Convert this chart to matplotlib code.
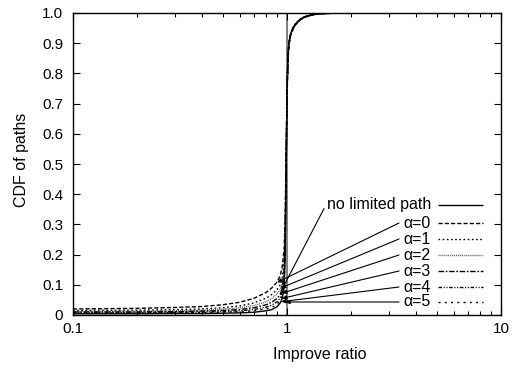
import matplotlib
matplotlib.use("Agg")
import matplotlib.pyplot as plt
from matplotlib.ticker import LogLocator, FixedLocator, NullFormatter, FixedFormatter
from matplotlib.lines import Line2D

plt.rcParams['font.family'] = ['Liberation Sans', 'DejaVu Sans']

# ---------------- data ----------------
ratio = [0.1, 0.2, 0.3, 0.4, 0.5, 0.6, 0.7, 0.8, 0.85, 0.9, 0.93, 0.95, 0.97,
         0.98, 0.99, 1.0, 1.01, 1.02, 1.04, 1.07, 1.1, 1.15, 1.2, 1.3, 1.4,
         1.6, 2.0, 3.0, 10.0]

series_names = ["no limited path", "\u03b1=0", "\u03b1=1", "\u03b1=2",
                "\u03b1=3", "\u03b1=4", "\u03b1=5"]

cdf_no_limit = [0.004, 0.004, 0.005, 0.005, 0.006, 0.007, 0.009, 0.014, 0.018,
                0.028, 0.040, 0.055, 0.09, 0.20, 0.45, 0.74, 0.85, 0.90, 0.93,
                0.95, 0.964, 0.977, 0.985, 0.993, 0.997, 0.999, 1.0, 1.0, 1.0]
cdf_a0 = [0.020, 0.022, 0.025, 0.028, 0.034, 0.042, 0.055, 0.075, 0.090,
          0.110, 0.130, 0.160, 0.22, 0.32, 0.52, 0.72, 0.83, 0.89, 0.925,
          0.948, 0.962, 0.976, 0.985, 0.993, 0.997, 0.999, 1.0, 1.0, 1.0]
cdf_a1 = [0.015, 0.016, 0.018, 0.020, 0.024, 0.030, 0.040, 0.056, 0.068,
          0.085, 0.100, 0.125, 0.18, 0.28, 0.50, 0.73, 0.84, 0.895, 0.93,
          0.952, 0.965, 0.978, 0.986, 0.994, 0.998, 0.999, 1.0, 1.0, 1.0]
cdf_a2 = [0.012, 0.013, 0.014, 0.016, 0.019, 0.024, 0.031, 0.044, 0.055,
          0.070, 0.085, 0.105, 0.16, 0.26, 0.48, 0.73, 0.845, 0.90, 0.93,
          0.952, 0.966, 0.978, 0.986, 0.994, 0.998, 0.999, 1.0, 1.0, 1.0]
cdf_a3 = [0.010, 0.010, 0.011, 0.013, 0.015, 0.018, 0.024, 0.034, 0.043,
          0.055, 0.068, 0.088, 0.14, 0.24, 0.47, 0.74, 0.85, 0.90, 0.932,
          0.953, 0.966, 0.978, 0.987, 0.994, 0.998, 0.999, 1.0, 1.0, 1.0]
cdf_a4 = [0.008, 0.008, 0.009, 0.010, 0.012, 0.014, 0.018, 0.026, 0.033,
          0.044, 0.056, 0.075, 0.12, 0.22, 0.46, 0.74, 0.85, 0.90, 0.932,
          0.953, 0.966, 0.979, 0.987, 0.994, 0.998, 0.999, 1.0, 1.0, 1.0]
cdf_a5 = [0.006, 0.006, 0.007, 0.008, 0.009, 0.011, 0.014, 0.020, 0.025,
          0.036, 0.047, 0.065, 0.11, 0.21, 0.45, 0.74, 0.85, 0.90, 0.932,
          0.953, 0.966, 0.979, 0.987, 0.994, 0.998, 0.999, 1.0, 1.0, 1.0]
all_cdfs = [cdf_no_limit, cdf_a0, cdf_a1, cdf_a2, cdf_a3, cdf_a4, cdf_a5]

# arrow targets (ratio, cdf) for each label
arrow_targets = [(0.94, 0.080), (0.90, 0.108), (0.94, 0.090), (0.95, 0.072),
                 (0.95, 0.055), (0.94, 0.044), (0.985, 0.043)]

y_ticks = [0.0, 0.1, 0.2, 0.3, 0.4, 0.5, 0.6, 0.7, 0.8, 0.9, 1.0]
y_tick_labels = ["0", "0.1", "0.2", "0.3", "0.4", "0.5", "0.6", "0.7",
                 "0.8", "0.9", "1.0"]
x_ticks = [0.1, 1, 10]
x_tick_labels = ["0.1", "1", "10"]

# ---------------- styles ----------------
styles = [
    (0, ()),
    (0, (3.0, 1.5)),
    (0, (1.2, 1.8)),
    (0, (0.7, 0.7)),
    (0, (4.0, 1.2, 1.2, 1.2)),
    (0, (2.5, 1.2, 0.8, 1.2, 0.8, 1.2)),
    (0, (1.5, 3.0)),
]
colors = ['black', 'black', 'black', '#555555', 'black', 'black', 'black']

fig = plt.figure(figsize=(5.13, 3.69), dpi=100)
ax = fig.add_axes([73 / 513, 1 - 315 / 369, (501 - 73) / 513, (315 - 13) / 369])

for ys, ls, c in zip(all_cdfs, styles, colors):
    ax.plot(ratio, ys, color=c, lw=1.0, linestyle=ls)

ax.axvline(1.0, color='#777777', lw=1.3, zorder=1)

ax.set_xscale('log')
ax.set_xlim(0.1, 10)
ax.set_ylim(0, 1)

ax.xaxis.set_major_locator(FixedLocator(x_ticks))
ax.xaxis.set_major_formatter(FixedFormatter(x_tick_labels))
ax.xaxis.set_minor_locator(LogLocator(base=10, subs=range(2, 10)))
ax.xaxis.set_minor_formatter(NullFormatter())
ax.set_yticks(y_ticks)
ax.set_yticklabels(y_tick_labels)

ax.tick_params(which='both', direction='in', top=True, right=True,
               labelsize=11, width=0.8)
ax.tick_params(which='major', length=5)
ax.tick_params(which='minor', length=3)
ax.tick_params(axis='y', pad=7)
ax.tick_params(axis='x', pad=5)
for s in ax.spines.values():
    s.set_linewidth(1.0)

ax.set_xlabel("Improve ratio", fontsize=11.5)
ax.xaxis.set_label_coords((320 - 73) / 428, -(355 - 315) / 302, transform=ax.transAxes)
ax.xaxis.label.set_va('center')
ax.set_ylabel("CDF of paths", fontsize=11.5)
ax.yaxis.set_label_coords(-(73 - 22) / 428, (315 - 160) / 302, transform=ax.transAxes)
ax.yaxis.label.set_va('center')

# ---------------- legend with arrows ----------------
text_right = (431 - 73) / 428
key_x0 = (438 - 73) / 428
key_x1 = (483 - 73) / 428
row_y = [(315 - py) / 302 for py in [205, 223, 239, 255, 271, 287, 302]]
arrow_start_x = [(324 - 73) / 428] + [(399 - 73) / 428] * 6
arrow_start_dy = [-0.012, 0, 0, 0, 0, 0, 0]

for i, name in enumerate(series_names):
    ax.text(text_right, row_y[i], name, transform=ax.transAxes,
            ha='right', va='center', fontsize=11.5)
    ax.add_line(Line2D([key_x0, key_x1], [row_y[i], row_y[i]],
                       transform=ax.transAxes, color=colors[i], lw=1.0,
                       linestyle=styles[i]))
    ax.annotate("", xy=arrow_targets[i], xycoords='data',
                xytext=(arrow_start_x[i], row_y[i] + arrow_start_dy[i]),
                textcoords='axes fraction',
                arrowprops=dict(arrowstyle='-|>', color='black', lw=0.8,
                                mutation_scale=6, shrinkA=0, shrinkB=0))

fig.savefig("out.png", dpi=100)
